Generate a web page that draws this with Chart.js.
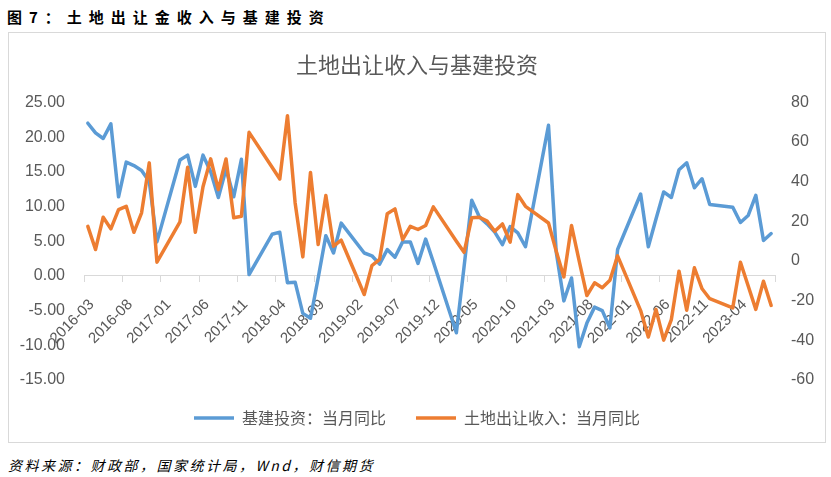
<!DOCTYPE html>
<html lang="zh">
<head>
<meta charset="UTF-8">
<title>土地出让收入与基建投资</title>
<script src="https://cdn.jsdelivr.net/npm/chart.js@4/dist/chart.umd.min.js"></script>
<style>
  body { margin: 0; width: 831px; height: 477px; background: #fff; position: relative; overflow: hidden;
         font-family: "Noto Sans CJK SC", sans-serif; }
  #heading { position: absolute; left: 7px; top: 5px; font-size: 15px; font-weight: bold; letter-spacing: 7px;
             line-height: 24px; color: #000; white-space: nowrap; }
  #box { position: absolute; left: 8px; top: 32px; width: 818px; height: 411px; border: 1px solid #d9d9d9;
         box-sizing: border-box; }
  #source { position: absolute; left: 8px; top: 454px; font-size: 14px; font-style: italic; letter-spacing: 2.5px;
            line-height: 22px; color: #000; white-space: nowrap; }
</style>
</head>
<body>
<div id="heading">图7：土地出让金收入与基建投资</div>
<div id="box"><canvas id="myChart" width="816" height="409"></canvas></div>
<div id="source">资料来源：财政部，国家统计局，Wnd，财信期货</div>
<script>
const months = [
  '2016-03','2016-04','2016-05','2016-06','2016-07','2016-08','2016-09','2016-10','2016-11','2016-12',
  '2017-01','2017-02','2017-03','2017-04','2017-05','2017-06','2017-07','2017-08','2017-09','2017-10','2017-11','2017-12',
  '2018-01','2018-02','2018-03','2018-04','2018-05','2018-06','2018-07','2018-08','2018-09','2018-10','2018-11','2018-12',
  '2019-01','2019-02','2019-03','2019-04','2019-05','2019-06','2019-07','2019-08','2019-09','2019-10','2019-11','2019-12',
  '2020-01','2020-02','2020-03','2020-04','2020-05','2020-06','2020-07','2020-08','2020-09','2020-10','2020-11','2020-12',
  '2021-01','2021-02','2021-03','2021-04','2021-05','2021-06','2021-07','2021-08','2021-09','2021-10','2021-11','2021-12',
  '2022-01','2022-02','2022-03','2022-04','2022-05','2022-06','2022-07','2022-08','2022-09','2022-10','2022-11','2022-12',
  '2023-01','2023-02','2023-03','2023-04','2023-05','2023-06','2023-07','2023-08'
];

// 基建投资：当月同比 (left axis, %)
const infraYoY = [
  22.0, 20.6, 19.8, 21.9, 11.4, 16.4, 15.9, 15.2, 13.6, 4.9,
  null, null, 16.7, 17.4, 12.9, 17.4, 15.0, 11.3, 15.4, 11.4, 16.8, 0.2,
  null, null, 6.0, 6.3, -1.0, -0.9, -5.4, -6.1, -0.3, 5.8, 3.3, 7.6,
  null, null, 3.3, 2.9, 1.7, 3.8, 2.7, 4.9, 4.9, 1.8, 5.3, 2.0,
  null, null, -8.2, 1.3, 10.9, 8.5, 7.5, 6.3, 4.5, 7.1, 6.2, 4.2,
  null, null, 21.7, 3.5, -3.6, -0.3, -10.2, -6.8, -4.5, -5.0, -7.5, 3.8,
  null, null, 11.8, 4.2, 8.2, 12.1, 11.3, 15.3, 16.3, 12.7, 14.0, 10.3,
  null, null, 9.9, 7.7, 8.7, 11.6, 5.1, 6.1
];

// 土地出让收入：当月同比 (right axis, %)
const landYoY = [
  17.5, 5.8, 22.1, 16.2, 25.9, 27.6, 14.5, 24.3, 49.5, -0.6,
  null, null, 19.8, 47.3, 14.5, 37.5, 51.5, 36.0, 51.5, 21.8, 22.6, 64.9,
  null, null, 47.3, 41.4, 73.3, 29.3, 2.1, 44.7, 8.3, 33.0, 7.5, 10.5,
  null, null, -16.9, -2.3, 0.8, 23.9, 26.3, 10.8, 17.5, 15.9, 17.9, 27.3,
  null, null, 10.0, 4.4, 21.8, 22.1, 20.1, 15.0, 18.7, 9.5, 33.5, 27.6,
  null, null, 19.2, 5.0, -8.0, 17.9, 0.0, -17.4, -11.0, -13.5, -9.7, 2.6,
  null, null, -25.0, -38.3, -24.4, -39.9, -29.5, -5.1, -24.8, -3.4, -14.0, -19.0,
  null, null, -23.6, -0.6, -12.5, -24.4, -10.2, -22.4
];

const xTickLabels = ['2016-03','2016-08','2017-01','2017-06','2017-11','2018-04','2018-09','2019-02','2019-07',
  '2019-12','2020-05','2020-10','2021-03','2021-08','2022-01','2022-06','2022-11','2023-04'];
const leftTicks = [25, 20, 15, 10, 5, 0, -5, -10, -15];
const rightTicks = [80, 60, 40, 20, 0, -20, -40, -60];

const textColor = '#595959';
const latinFont = "'Liberation Sans', Arial, sans-serif";
const cjkFont = "'Noto Sans CJK SC', sans-serif";

new Chart(document.getElementById('myChart'), {
  type: 'line',
  data: {
    labels: months,
    datasets: [
      {
        label: '基建投资：当月同比',
        data: infraYoY,
        yAxisID: 'y',
        borderColor: '#5B9BD5',
        backgroundColor: '#5B9BD5',
        borderWidth: 3.5,
        borderJoinStyle: 'round',
        borderCapStyle: 'round',
        pointRadius: 0,
        spanGaps: true,
        order: 1
      },
      {
        label: '土地出让收入：当月同比',
        data: landYoY,
        yAxisID: 'y1',
        borderColor: '#ED7D31',
        backgroundColor: '#ED7D31',
        borderWidth: 3.5,
        borderJoinStyle: 'round',
        borderCapStyle: 'round',
        pointRadius: 0,
        spanGaps: true,
        order: 0
      }
    ]
  },
  options: {
    responsive: false,
    animation: false,
    layout: { padding: { left: 0, right: 0, top: 0, bottom: 6 } },
    plugins: {
      title: {
        display: true,
        text: '土地出让收入与基建投资',
        color: textColor,
        font: { family: cjkFont, size: 22, weight: 'normal' },
        padding: { top: 18, bottom: 25 }
      },
      legend: {
        position: 'bottom',
        labels: {
          usePointStyle: true,
          pointStyle: 'line',
          pointStyleWidth: 40,
          padding: 30,
          color: textColor,
          font: { family: cjkFont, size: 16 },
          sort: (a, b) => a.datasetIndex - b.datasetIndex
        }
      },
      tooltip: { enabled: false }
    },
    scales: {
      x: {
        position: { y: 0 },
        offset: true,
        grid: {
          drawOnChartArea: false,
          drawTicks: true,
          tickLength: 6,
          offset: true,
          color: c => (c.index === undefined || xTickLabels.includes(months[c.index])) ? '#d9d9d9' : 'rgba(0,0,0,0)'
        },
        border: { display: true, color: '#d9d9d9', width: 1 },
        ticks: {
          autoSkip: false,
          minRotation: 45,
          maxRotation: 45,
          padding: 14,
          labelOffset: 4,
          color: textColor,
          font: { family: latinFont, size: 15 },
          callback: v => xTickLabels.includes(months[v]) ? months[v] : ''
        }
      },
      y: {
        position: 'left',
        min: -15,
        max: 25,
        afterBuildTicks: s => { s.ticks = leftTicks.map(v => ({ value: v })); },
        afterFit: s => { s.width = 75; },
        grid: { display: false, drawTicks: false },
        border: { display: false },
        ticks: {
          padding: 19,
          color: textColor,
          font: { family: latinFont, size: 16 },
          callback: v => v.toFixed(2)
        }
      },
      y1: {
        position: 'right',
        min: -60,
        max: 80,
        afterBuildTicks: s => { s.ticks = rightTicks.map(v => ({ value: v })); },
        afterFit: s => { s.width = 50; },
        grid: { display: false, drawTicks: false },
        border: { display: false },
        ticks: {
          padding: 16,
          color: textColor,
          font: { family: latinFont, size: 16 }
        }
      }
    }
  }
});
</script>
</body>
</html>
